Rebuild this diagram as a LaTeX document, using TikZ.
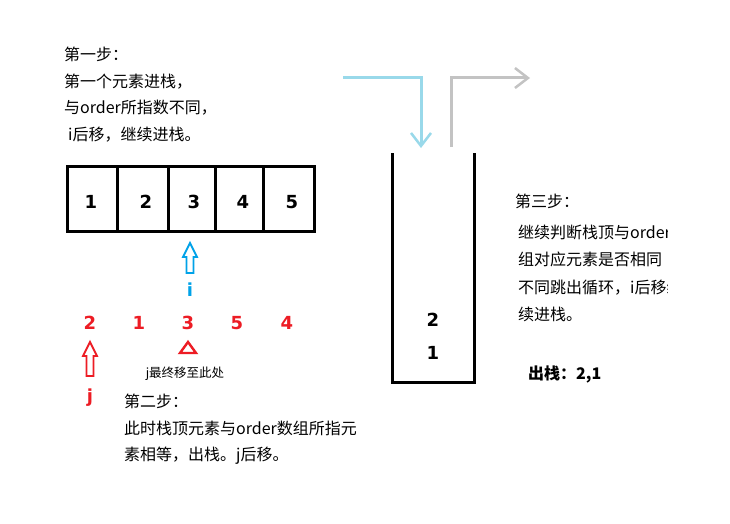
\documentclass[tikz,border=0pt]{standalone}
\usepackage{fontspec}
\setmainfont{Noto Sans CJK SC}
\newfontfamily\cifras{DejaVu Sans}
\usetikzlibrary{arrows.meta}
\definecolor{azulI}{RGB}{0,162,232}
\definecolor{rojoJ}{RGB}{237,28,36}
\definecolor{celeste}{RGB}{153,217,234}
\definecolor{grisS}{RGB}{195,195,195}
% flecha hueca hacia arriba: x, y punta, y base, color
\newcommand{\flechaHueca}[4]{%
  \draw[#4,line width=1.8pt,line join=miter]
    (#1,#2) -- ({#1+7},{#2+14}) -- ({#1+3.5},{#2+14}) -- ({#1+3.5},#3)
    -- ({#1-3.5},#3) -- ({#1-3.5},{#2+14}) -- ({#1-7},{#2+14}) -- cycle;
}
\tikzset{
  texto/.style={align=left,anchor=north west,inner sep=0pt,
    font=\fontsize{16}{26.6}\selectfont},
  numero/.style={inner sep=0pt,font=\cifras\bfseries\fontsize{18}{18}\selectfont},
  borde/.style={line width=3pt},
  flechaV/.style={line width=3pt,-{Straight Barb[length=13pt,width=20pt,line width=2.5pt]}}
}

\begin{document}
\begin{tikzpicture}[x=1pt,y=-1pt]
  \useasboundingbox[fill=white] (0,0) rectangle (730,524);

  % primer paso
  \node[texto] (paso1) at (64,47) {第一步：\\第一个元素进栈，\\与order所指数不同，\\\hspace*{4pt}i后移，继续进栈。};

  % arreglo
  \draw[borde] (67,166) rectangle (314,231);
  \draw[borde] (117,166) -- (117,231);
  \draw[borde] (168,166) -- (168,231);
  \draw[borde] (215,166) -- (215,231);
  \draw[borde] (263,166) -- (263,231);
  \node[numero] (celda1) at (91,202) {1};
  \node[numero] (celda2) at (146,202) {2};
  \node[numero] (celda3) at (194,202) {3};
  \node[numero] (celda4) at (243,202) {4};
  \node[numero] (celda5) at (292,202) {5};

  \flechaHueca{190}{243}{273}{azulI}
  \node[numero,text=azulI] (letraI) at (190,290) {i};

  % secuencia order
  \node[numero,text=rojoJ] (orden1) at (90,323) {2};
  \node[numero,text=rojoJ] (orden2) at (139,323) {1};
  \node[numero,text=rojoJ] (orden3) at (188,323) {3};
  \node[numero,text=rojoJ] (orden4) at (237,323) {5};
  \node[numero,text=rojoJ] (orden5) at (287,323) {4};

  \flechaHueca{90}{342}{376}{rojoJ}
  \node[numero,text=rojoJ] (letraJ) at (90,398) {j};
  \draw[rojoJ,line width=2.4pt,line join=miter] (188,342) -- (196,353) -- (180,353) -- cycle;
  \node[inner sep=0pt,font=\fontsize{12.5}{12.5}\selectfont] (finJ) at (185,374) {j最终移至此处};

  % segundo paso
  \node[texto] (paso2) at (124,394) {第二步：\\此时栈顶元素与order数组所指元\\素相等，出栈。j后移。};

  % pila
  \draw[borde] (392,153) -- (392,382) -- (474,382) -- (474,153);
  \node[numero] (pila2) at (433,320) {2};
  \node[numero] (pila1) at (433,353) {1};

  \coordinate (entraIni) at (343,78);
  \coordinate (entraFin) at (421,148);
  \draw[celeste,flechaV] (entraIni) -| (entraFin);
  \coordinate (saleIni) at (451,147);
  \coordinate (saleFin) at (530,78);
  \draw[grisS,flechaV] (saleIni) |- (saleFin);

  % tercer paso
  \node[texto] (paso3) at (515,194) {第三步：};
  \begin{scope}
    \clip (500,215) rectangle (667,340);
    \node[texto,font=\fontsize{16}{27.3}\selectfont] (paso3txt) at (518,225)
      {继续判断栈顶与order数\\组对应元素是否相同\\不同跳出循环，i后移继\\续进栈。};
  \end{scope}
  \node[texto,anchor=west,font=\bfseries\fontsize{16}{16}\selectfont] (salida) at (528,374) {出栈：2,1};
\end{tikzpicture}
\end{document}
